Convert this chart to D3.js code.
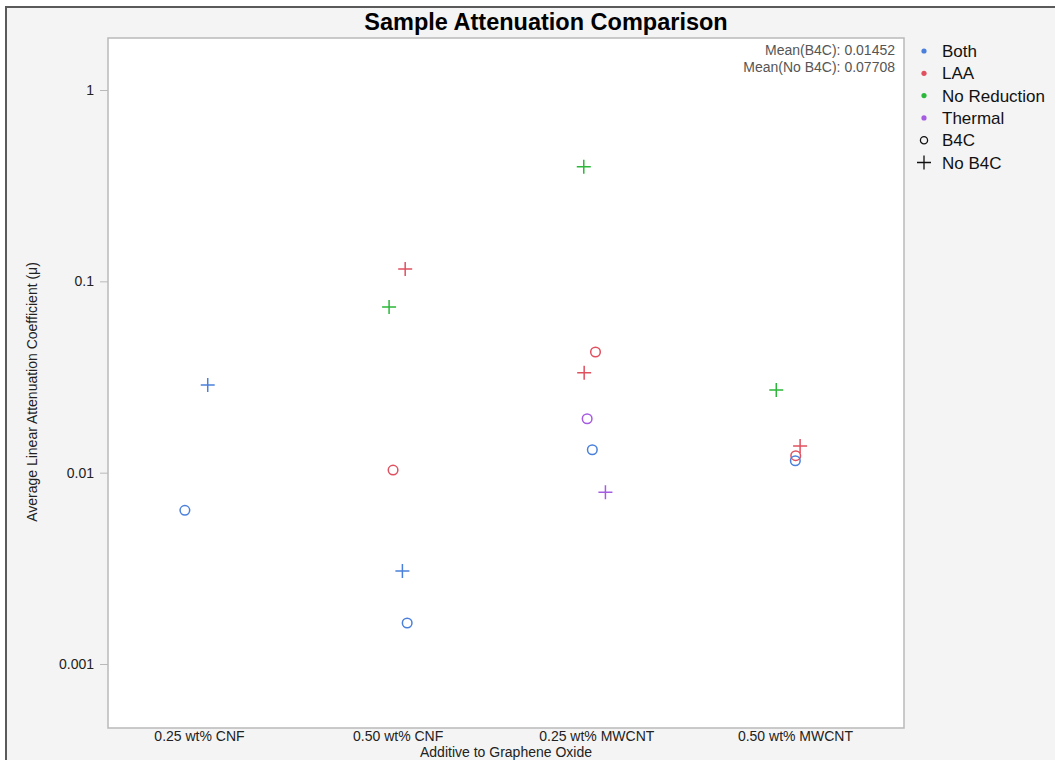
<!DOCTYPE html>
<html>
<head>
<meta charset="utf-8">
<script src="https://cdn.jsdelivr.net/npm/d3@7"></script>
<style>
  body { margin: 0; background: #fff; }
  text { font-family: "Liberation Sans", Arial, sans-serif; }
</style>
</head>
<body>
<div id="chart"></div>
<script>
// categories along the x axis
var categories = ["0.25 wt% CNF", "0.50 wt% CNF", "0.25 wt% MWCNT", "0.50 wt% MWCNT"];
var groups = ["Both", "LAA", "No Reduction", "Thermal"];
var groupColors = ["#4a80dc", "#e0505f", "#2bb83a", "#a65ce2"];
var yTicks = [1, 0.1, 0.01, 0.001];
var meanLabels = ["Mean(B4C): 0.01452", "Mean(No B4C): 0.07708"];

// one entry per sample
var sampleCategory = [0, 0, 1, 1, 1, 1, 1, 2, 2, 2, 2, 2, 2, 3, 3, 3, 3];
var sampleJitter = [0.044, -0.071, 0.038, -0.043, -0.023, 0.024, 0.048, -0.063, -0.004, -0.061, -0.046, -0.020, 0.046, -0.094, 0.026, 0.004, 0.002];
var sampleGroup = ["Both", "Both", "LAA", "No Reduction", "LAA", "Both", "Both", "No Reduction", "LAA", "LAA", "Thermal", "Both", "Thermal", "No Reduction", "LAA", "LAA", "Both"];
var sampleB4C = [false, true, false, false, true, false, true, false, true, false, true, true, false, false, false, true, true];
var sampleMu = [0.02872, 0.006358, 0.1160, 0.07340, 0.01032, 0.003062, 0.001638, 0.3973, 0.04272, 0.03331, 0.01914, 0.01318, 0.007897, 0.02704, 0.01378, 0.01227, 0.01155];

var width = 1055, height = 760;
var plot = {left: 108, top: 38, right: 904, bottom: 728};

var svg = d3.select("#chart").append("svg")
    .attr("width", width)
    .attr("height", height);

// window background with the dark frame on top / left
svg.append("rect").attr("width", width).attr("height", height).attr("fill", "#fff");
svg.append("rect")
    .attr("x", 6).attr("y", 7)
    .attr("width", width).attr("height", height)
    .attr("fill", "#f4f4f4")
    .attr("stroke", "#5a5a5a")
    .attr("stroke-width", 2);

var x = d3.scaleLinear()
    .domain([-0.458, 3.549])
    .range([plot.left, plot.right]);

var y = d3.scaleLog()
    .domain([1.87, 0.000463])
    .range([plot.top, plot.bottom]);

var color = d3.scaleOrdinal(groups, groupColors);

svg.append("rect")
    .attr("x", plot.left).attr("y", plot.top)
    .attr("width", plot.right - plot.left)
    .attr("height", plot.bottom - plot.top)
    .attr("fill", "#fff")
    .attr("stroke", "#b9b9b9")
    .attr("stroke-width", 1.5);

// title
svg.append("text")
    .attr("x", 546).attr("y", 30)
    .attr("text-anchor", "middle")
    .style("font-size", "23.5px")
    .style("font-weight", "bold")
    .text("Sample Attenuation Comparison");

// y axis
var yAxis = svg.append("g")
    .attr("transform", "translate(" + plot.left + ",0)")
    .call(d3.axisLeft(y).tickValues(yTicks).tickSize(8).tickPadding(6)
        .tickFormat(function(d) { return d3.format("~g")(d); }));
yAxis.select(".domain").remove();
yAxis.selectAll(".tick line").attr("stroke", "#b9b9b9");
yAxis.selectAll(".tick text")
    .attr("fill", "#222")
    .style("font-size", "14px")
    .style("font-family", "Liberation Sans, Arial, sans-serif");

// x axis labels
var xAxis = svg.append("g")
    .attr("transform", "translate(0," + plot.bottom + ")")
    .call(d3.axisBottom(x).tickValues(d3.range(categories.length)).tickSize(0).tickPadding(3)
        .tickFormat(function(d) { return categories[d]; }));
xAxis.select(".domain").remove();
xAxis.selectAll(".tick text")
    .attr("fill", "#222")
    .style("font-size", "14px")
    .style("font-family", "Liberation Sans, Arial, sans-serif");

svg.append("text")
    .attr("x", (plot.left + plot.right) / 2).attr("y", 757)
    .attr("text-anchor", "middle")
    .attr("fill", "#222")
    .style("font-size", "14px")
    .text("Additive to Graphene Oxide");

svg.append("text")
    .attr("transform", "translate(37,392) rotate(-90)")
    .attr("text-anchor", "middle")
    .attr("fill", "#222")
    .style("font-size", "14px")
    .text("Average Linear Attenuation Coefficient (μ)");

// means annotation
svg.selectAll("text.mean").data(meanLabels).join("text")
    .classed("mean", true)
    .attr("x", plot.right - 9)
    .attr("y", function(d, i) { return 55 + i * 16.5; })
    .attr("text-anchor", "end")
    .attr("fill", "#555")
    .style("font-size", "14px")
    .text(function(d) { return d; });

// points
var samples = sampleMu.map(function(v, i) {
  return {cat: sampleCategory[i] + sampleJitter[i], mu: v, group: sampleGroup[i], b4c: sampleB4C[i]};
});

function plusPath(s) {
  return "M" + (-s) + ",0H" + s + "M0," + (-s) + "V" + s;
}

var marks = svg.append("g");
marks.selectAll("circle").data(samples.filter(function(d) { return d.b4c; })).join("circle")
    .attr("cx", function(d) { return x(d.cat); })
    .attr("cy", function(d) { return y(d.mu); })
    .attr("r", 4.8)
    .attr("fill", "none")
    .attr("stroke", function(d) { return color(d.group); })
    .attr("stroke-width", 1.5);

marks.selectAll("path").data(samples.filter(function(d) { return !d.b4c; })).join("path")
    .attr("transform", function(d) { return "translate(" + x(d.cat) + "," + y(d.mu) + ")"; })
    .attr("d", plusPath(7))
    .attr("fill", "none")
    .attr("stroke", function(d) { return color(d.group); })
    .attr("stroke-width", 1.5);

// legend
var legend = svg.append("g").attr("transform", "translate(924,51)");
var rowH = 22.3;
groups.forEach(function(g, i) {
  legend.append("circle")
      .attr("cx", 0).attr("cy", i * rowH)
      .attr("r", 2.6)
      .attr("fill", color(g));
  legend.append("text")
      .attr("x", 18).attr("y", i * rowH + 6)
      .attr("fill", "#111")
      .style("font-size", "17px")
      .text(g);
});
var b = groups.length;
legend.append("circle")
    .attr("cx", 0).attr("cy", b * rowH)
    .attr("r", 3.6)
    .attr("fill", "none")
    .attr("stroke", "#111")
    .attr("stroke-width", 1.3);
legend.append("text")
    .attr("x", 18).attr("y", b * rowH + 6)
    .attr("fill", "#111")
    .style("font-size", "17px")
    .text("B4C");
legend.append("path")
    .attr("transform", "translate(0," + ((b + 1) * rowH) + ")")
    .attr("d", plusPath(7))
    .attr("stroke", "#111")
    .attr("stroke-width", 1.3);
legend.append("text")
    .attr("x", 18).attr("y", (b + 1) * rowH + 6)
    .attr("fill", "#111")
    .style("font-size", "17px")
    .text("No B4C");
</script>
</body>
</html>
